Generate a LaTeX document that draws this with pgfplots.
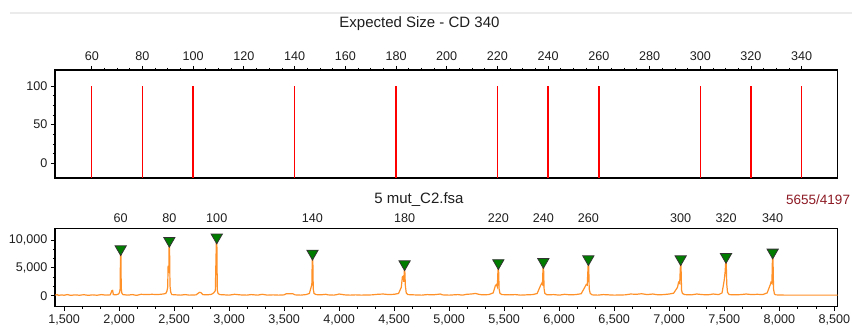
\documentclass[border=0pt]{standalone}
\usepackage{pgfplots}
\pgfplotsset{compat=1.18}
\usepackage{fontspec}
\setmainfont{Liberation Sans}
\definecolor{trace}{RGB}{255,145,40}
\definecolor{mk}{RGB}{0,125,0}
\definecolor{maroon}{RGB}{140,25,35}
\definecolor{lab}{RGB}{30,30,30}
\begin{document}
\begin{tikzpicture}
\useasboundingbox (0,0) rectangle (852pt,329pt);
\draw[black!8, line width=2pt] (10pt,316pt) -- (852pt,316pt);
\node[font=\fontsize{15}{18}\selectfont, text=lab] at (419.5pt,305pt) {Expected Size - CD 340};
\node[font=\fontsize{15}{18}\selectfont, text=lab] at (419pt,129pt) {5 mut\_C2.fsa};
\node[font=\fontsize{13.5}{16}\selectfont, text=maroon, anchor=west, inner sep=0pt] at (786pt,129pt) {5655/4197};

\begin{axis}[
  at={(55pt,151pt)}, anchor=south west,
  scale only axis, width=782.7pt, height=108pt,
  xmin=45.5, xmax=354.2, ymin=-19, ymax=120.7,
  xtick={60,80,...,340}, minor x tick num=3,
  ytick={0,50,100}, minor y tick num=3,
  xtick pos=upper, ytick pos=left, xticklabel pos=upper,
  tick align=outside, major tick length=4pt, minor tick length=2pt,
  tick style={black, line width=0.8pt},
  axis line style={black, line width=1.4pt},
  ticklabel style={font=\fontsize{12.6}{14}\selectfont, text=lab},
  xticklabel style={yshift=1.5pt},
  /pgf/number format/assume math mode=true,
  unbounded coords=jump,
]
\addplot[red, line width=1.4pt] coordinates {
(60,-30) (60,100) (60,nan)
(80,-30) (80,100) (80,nan)
(100,-30) (100,100) (100,nan)
(140,-30) (140,100) (140,nan)
(180,-30) (180,100) (180,nan)
(220,-30) (220,100) (220,nan)
(240,-30) (240,100) (240,nan)
(260,-30) (260,100) (260,nan)
(300,-30) (300,100) (300,nan)
(320,-30) (320,100) (320,nan)
(340,-30) (340,100)
};
\end{axis}

\begin{axis}[
  at={(55pt,22.3pt)}, anchor=south west,
  scale only axis, width=782.7pt, height=78.4pt,
  xmin=1418, xmax=8531, ymin=-1975, ymax=12100,
  xtick={1500,2000,...,8500}, minor x tick num=2,
  ytick={0,5000,10000}, minor y tick num=2,
  xtick pos=lower, ytick pos=left,
  tick align=outside, major tick length=4pt, minor tick length=2pt,
  tick style={black, line width=0.8pt},
  axis line style={black, line width=1.4pt},
  ticklabel style={font=\fontsize{12.6}{14}\selectfont, text=lab},
  scaled x ticks=false, scaled y ticks=false,
  /pgf/number format/.cd, 1000 sep={,}, assume math mode=true,
  /pgfplots/.cd,
  clip=false,
]
\addplot[trace, line width=1.2pt] coordinates {
(1420,100) (1440,200) (1450,50) (1480,150) (1500,80) (1530,200) (1560,60) (1600,150)
(1640,80) (1680,180) (1720,60) (1760,150) (1800,80) (1840,200) (1880,100) (1920,150)
(1935,900) (1942,950) (1948,200) (1970,150) (1995,300) (2005,600) (2010,1200)
(2013,7300) (2017,7300) (2020,1400) (2025,500) (2035,200) (2080,100) (2120,200)
(2160,60) (2200,250) (2250,200) (2300,250) (2350,200) (2400,300) (2425,400)
(2435,800) (2442,1500) (2446,5400) (2449,4200) (2452,4200) (2455,8800) (2459,8800)
(2463,1800) (2470,600) (2480,200) (2520,150) (2560,100) (2600,200) (2640,100)
(2700,150) (2730,600) (2745,550) (2760,200) (2800,150) (2840,250) (2860,500)
(2875,900) (2884,9400) (2889,9400) (2893,1000) (2900,400) (2915,200) (2960,150)
(3000,100) (3050,250) (3100,150) (3160,100) (3200,200) (3260,100) (3300,250)
(3350,100) (3400,150) (3450,100) (3500,150) (3520,350) (3580,350) (3600,150)
(3650,100) (3700,200) (3730,400) (3745,1500) (3752,2000) (3756,6500) (3761,6500)
(3765,1200) (3772,400) (3790,200) (3830,150) (3880,250) (3900,150) (3950,100)
(3980,200) (4000,300) (4050,150) (4100,100) (4150,150) (4200,100) (4300,150)
(4350,250) (4400,300) (4450,200) (4500,250) (4540,400) (4565,1500) (4575,3400)
(4582,3500) (4588,2500) (4593,4600) (4597,4600) (4602,1800) (4610,500) (4625,200)
(4680,150) (4750,100) (4800,200) (4850,150) (4900,250) (4920,300) (4940,150)
(5000,100) (5080,200) (5120,100) (5160,250) (5200,300) (5240,400) (5270,250)
(5300,150) (5360,200) (5400,500) (5420,1800) (5430,2000) (5438,1600) (5444,4800)
(5449,4800) (5454,1200) (5462,400) (5480,200) (5550,150) (5600,200) (5650,100)
(5700,150) (5760,200) (5800,400) (5830,1800) (5840,2200) (5848,2000) (5853,5000)
(5858,5000) (5863,1200) (5870,400) (5890,150) (5950,200) (6000,100) (6050,250)
(6100,150) (6150,200) (6200,350) (6235,1600) (6245,2000) (6255,1900) (6263,5500)
(6268,5500) (6273,1200) (6282,400) (6300,150) (6350,100) (6400,200) (6450,150)
(6500,100) (6600,150) (6650,300) (6700,250) (6750,350) (6800,200) (6850,300)
(6900,150) (6950,200) (7000,300) (7040,450) (7075,1500) (7085,2400) (7095,2200)
(7102,5500) (7107,5500) (7112,1000) (7120,400) (7140,200) (7200,150) (7250,300)
(7300,200) (7350,150) (7400,300) (7450,200) (7480,500) (7500,2800) (7508,4300)
(7513,5900) (7518,5900) (7523,2000) (7530,600) (7545,200) (7600,150) (7650,200)
(7700,300) (7750,200) (7800,250) (7850,200) (7890,500) (7915,1800) (7925,2400)
(7933,2200) (7938,6700) (7943,6700) (7948,1200) (7956,300) (7970,150) (8050,100)
(8100,100) (8200,100) (8300,100) (8400,100) (8530,100)
};
\addplot[only marks, mark=triangle*, mark size=6.5pt,
  mark options={yshift=6pt, rotate=180, fill=mk, draw=black!80, line width=0.8pt}]
coordinates {
(2015,7300) (2457,8800) (2888,9400) (3758,6500) (4595,4600) (5447,4800)
(5856,5000) (6265,5500) (7104,5500) (7516,5900) (7940,6700)
};
\foreach \px/\lb in {2015/60,2457/80,2888/100,3758/140,4595/180,5447/220,5856/240,6265/260,7104/300,7516/320,7940/340}{
  \edef\tmp{\noexpand\node[font=\noexpand\fontsize{12.6}{14}\noexpand\selectfont, text=lab, anchor=center, yshift=10pt] at (axis cs:\px,12100) {\lb};}
  \tmp
}
\end{axis}
\end{tikzpicture}
\end{document}
